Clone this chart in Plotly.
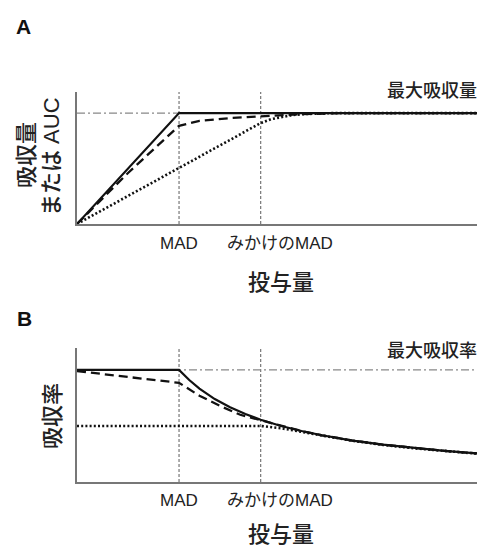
import plotly.graph_objects as go

# ---- data ----
mad_dose = 1.0
apparent_mad_dose = 1.8
x_max = 3.92
max_level = 1.0

# Panel A: absorbed amount (or AUC) vs dose
a_solid_dose = [0, 1.0, 3.92]
a_solid_val = [0, 1.0, 1.0]
a_dashed_dose = [0, 0.5, 1.0, 1.2, 1.5, 1.8, 2.0, 2.2, 2.6, 3.92]
a_dashed_val = [0, 0.46, 0.885, 0.93, 0.955, 0.97, 0.98, 0.99, 1.0, 1.0]
a_dotted_dose = [0, 1.0, 1.8, 1.9, 2.0, 2.1, 2.2, 2.35, 2.5, 3.92]
a_dotted_val = [0, 0.505, 0.91, 0.945, 0.965, 0.98, 0.99, 0.997, 1.0, 1.0]

# Panel B: absorption rate vs dose
b_solid_dose = [0, 1.0, 1.1, 1.2, 1.35, 1.5, 1.65, 1.8, 2.0, 2.2, 2.4, 2.7, 3.0, 3.3, 3.6, 3.92]
b_solid_val = [1.0, 1.0, 0.91, 0.833, 0.74, 0.667, 0.606, 0.556, 0.5, 0.455, 0.417, 0.37, 0.333, 0.303, 0.278, 0.255]
b_dashed_dose = [0, 1.0, 1.2, 1.4, 1.6, 1.8, 2.0, 2.2, 2.4, 2.7, 3.0, 3.3, 3.6, 3.92]
b_dashed_val = [0.99, 0.885, 0.77, 0.68, 0.6, 0.55, 0.5, 0.455, 0.417, 0.37, 0.333, 0.303, 0.278, 0.255]
b_dotted_dose = [0, 1.8, 2.0, 2.2, 2.4, 2.7, 3.0, 3.3, 3.6, 3.92]
b_dotted_val = [0.5, 0.5, 0.48, 0.45, 0.415, 0.368, 0.331, 0.301, 0.276, 0.253]

tick_labels = ["MAD", "みかけのMAD"]
x_title = "投与量"
y_title_a_lines = ["吸収量", "または", "AUC"]
y_title_b = "吸収率"
max_label_a = "最大吸収量"
max_label_b = "最大吸収率"

FONT = "Liberation Sans, Arial, Noto Sans CJK JP, sans-serif"
JP_FONT = "Noto Sans CJK JP, Liberation Sans, sans-serif"
W, H = 477, 549

fig = go.Figure()

line_styles = {
    "solid": dict(color="#111", width=2.2, dash="solid"),
    "dashed": dict(color="#111", width=2.3, dash="9px,5px"),
    "dotted": dict(color="#111", width=2.6, dash="2px,2.2px"),
}
ref_v = dict(color="#777", width=1.2, dash="3px,2px")
ref_h = dict(color="#888", width=1.2, dash="8px,3px,2px,3px")


def add_panel(xa, ya, ytop, series):
    # reference lines
    for d in (mad_dose, apparent_mad_dose):
        fig.add_trace(go.Scatter(x=[d, d], y=[0, ytop], mode="lines", line=ref_v,
                                 xaxis=xa, yaxis=ya, showlegend=False, hoverinfo="skip"))
    fig.add_trace(go.Scatter(x=[0, x_max], y=[max_level, max_level], mode="lines", line=ref_h,
                             xaxis=xa, yaxis=ya, showlegend=False, hoverinfo="skip"))
    for style, xs, ys in series:
        fig.add_trace(go.Scatter(x=xs, y=ys, mode="lines", line=line_styles[style],
                                 xaxis=xa, yaxis=ya, showlegend=False))


add_panel("x", "y", 1.19, [
    ("dotted", a_dotted_dose, a_dotted_val),
    ("dashed", a_dashed_dose, a_dashed_val),
    ("solid", a_solid_dose, a_solid_val),
])
add_panel("x2", "y2", 1.196, [
    ("dotted", b_dotted_dose, b_dotted_val),
    ("dashed", b_dashed_dose, b_dashed_val),
    ("solid", b_solid_dose, b_solid_val),
])

axis_common = dict(showgrid=False, zeroline=False, showticklabels=False, ticks="",
                   showline=True, linecolor="#777", linewidth=2)
xdom = [77 / W, 1.0]

fig.update_layout(
    width=W, height=H,
    margin=dict(l=0, r=0, t=0, b=0),
    paper_bgcolor="white", plot_bgcolor="white",
    font=dict(family=FONT, color="#222"),
    xaxis=dict(domain=xdom, range=[0, x_max], anchor="y", **axis_common),
    yaxis=dict(domain=[1 - 224 / H, 1 - 92 / H], range=[0, 1.19], anchor="x", **axis_common),
    xaxis2=dict(domain=xdom, range=[0, x_max], anchor="y2", **axis_common),
    yaxis2=dict(domain=[1 - 482 / H, 1 - 348 / H], range=[0, 1.196], anchor="x2", **axis_common),
)


def px_ann(text, x, y, size, xanchor="center", yanchor="middle", angle=0, weight="normal",
           color="#222", family=FONT):
    fig.add_annotation(
        text=text,
        x=x / W, y=1 - y / H, xref="paper", yref="paper",
        xanchor=xanchor, yanchor=yanchor, showarrow=False, textangle=angle,
        borderpad=0,
        font=dict(family=family, size=size, color=color, weight=weight),
    )


JPW = 500
# Panel A texts
px_ann("A", 23, 26, 21, weight="bold", color="#111")
px_ann(max_label_a, 386, 89, 18, xanchor="left", weight=JPW, family=JP_FONT)
px_ann(tick_labels[0], 179, 243, 17)
px_ann(tick_labels[1], 280, 243, 17)
px_ann(x_title, 281, 280, 22, weight=JPW, family=JP_FONT)
px_ann(y_title_a_lines[0], 24, 155, 22, angle=-90, weight=JPW, family=JP_FONT)
px_ann(y_title_a_lines[1] + " " + y_title_a_lines[2], 51, 157, 22, angle=-90, weight=JPW)

# Panel B texts
px_ann("B", 24, 318, 21, weight="bold", color="#111")
px_ann(max_label_b, 386, 349, 18, xanchor="left", weight=JPW, family=JP_FONT)
px_ann(tick_labels[0], 179, 500, 17)
px_ann(tick_labels[1], 280, 500, 17)
px_ann(x_title, 281, 549, 22, yanchor="bottom", weight=JPW, family=JP_FONT)
px_ann(y_title_b, 50, 416, 22, angle=-90, weight=JPW, family=JP_FONT)

fig.write_html("out.html")
